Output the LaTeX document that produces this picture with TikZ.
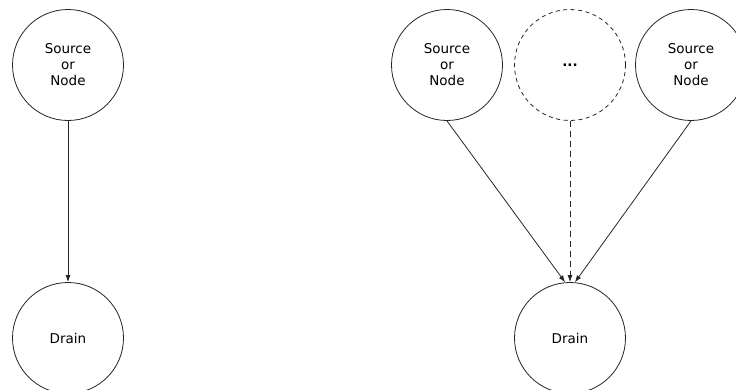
\documentclass[tikz,border=0pt]{standalone}
\usepackage{fontspec}
\setmainfont{DejaVu Sans}
\usepackage{tikz}
\usetikzlibrary{positioning}
\usetikzlibrary{arrows.meta}
\tikzset{
  % A vertex of the graph
  vertex/.style={
    draw=black!85, fill=white, circle, align=center, line width=0.8pt,
    font=\fontsize{13.5}{16}\selectfont, inner sep=0pt, minimum size=111pt},
  % A vertex that stands for any number of further ones
  morevertex/.style={vertex, dash pattern=on 4pt off 3.5pt},
  % Edges
  feeds/.style={-{Latex[length=7pt,width=5pt]}, draw=black!85, line width=0.8pt},
  morefeeds/.style={feeds, dash pattern=on 6pt off 4pt},
}
\begin{document}
\begin{tikzpicture}[x=1pt, y=-1pt]
\useasboundingbox (0,0) rectangle (736,389);

% single source
\node[vertex] (srcA) at (68,65) {Source\\or\\Node};
\node[vertex] (drainA) at (68,338) {Drain};

\draw[feeds] (srcA.south) -- (drainA.north);

% many sources
\node[vertex] (srcB) at (447,65) {Source\\or\\Node};
\node[morevertex] (srcMore) at (570,65) {\textbf{...}};
\node[vertex] (srcC) at (691,65) {Source\\or\\Node};
\node[vertex] (drainB) at (570,338) {Drain};

\draw[feeds] (srcB.south) -- (drainB.95);
\draw[morefeeds] (srcMore.south) -- (drainB.north);
\draw[feeds] (srcC.south) -- (drainB.85);

\end{tikzpicture}
\end{document}
